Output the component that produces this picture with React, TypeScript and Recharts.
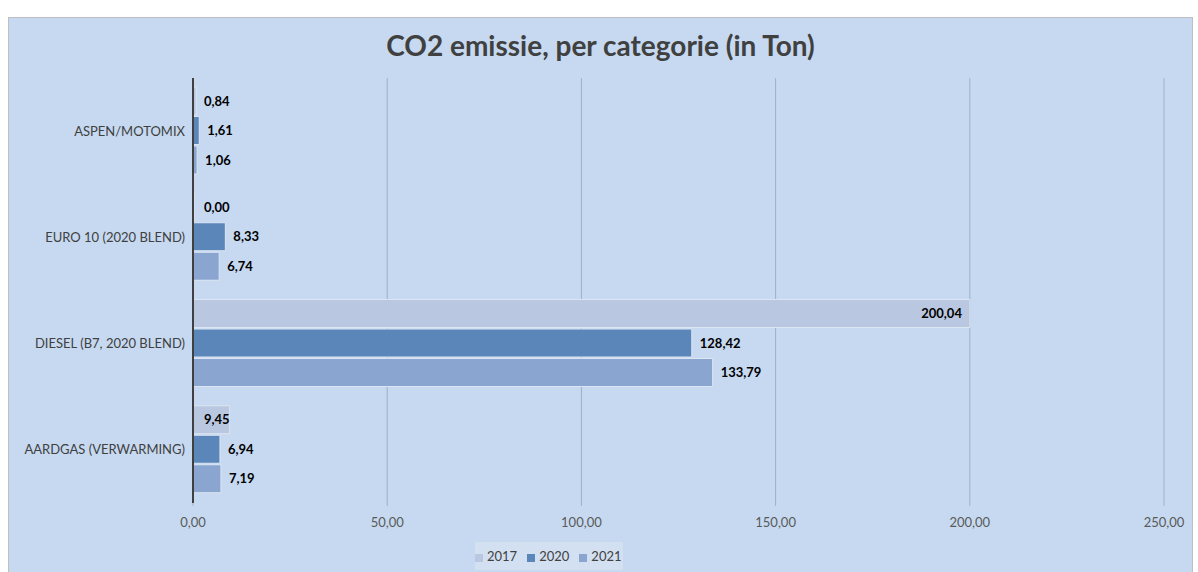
import { BarChart, Bar, XAxis, YAxis, CartesianGrid, Legend, LabelList } from "recharts";

const categories = ["ASPEN/MOTOMIX", "EURO 10 (2020 BLEND)", "DIESEL (B7, 2020 BLEND)", "AARDGAS (VERWARMING)"];
const values2017 = [0.84, 0.0, 200.04, 9.45];
const values2020 = [1.61, 8.33, 128.42, 6.94];
const values2021 = [1.06, 6.74, 133.79, 7.19];
const xTicks = [0, 50, 100, 150, 200, 250];

const series = [
  { key: "y2017", name: "2017", color: "#B9C8E0", labelAtBase: true },
  { key: "y2020", name: "2020", color: "#5A86BA", labelAtBase: false },
  { key: "y2021", name: "2021", color: "#8AA6D0", labelAtBase: false },
];

const chartData = categories.map((name, i) => ({
  name,
  y2017: values2017[i],
  y2020: values2020[i],
  y2021: values2021[i],
}));

const fmt = (v: number) => v.toFixed(2).replace(".", ",");
const FONT = "Lato, 'Open Sans', sans-serif";

// 2017 labels sit near the base (or inside the end of a long bar), the others just past the bar end
const makeLabel = (atBase: boolean) => (props: any) => {
  const { x, y, width, height, value } = props;
  const inside = width > 600;
  let tx = x + width + 8;
  if (atBase) tx = x + 11;
  if (inside) tx = x + width - 8;
  return (
    <text
      x={tx}
      y={y + height / 2}
      dy={4.5}
      textAnchor={inside ? "end" : "start"}
      fontFamily={FONT}
      fontSize={13}
      fontWeight={700}
      fill="#000"
    >
      {fmt(Number(value))}
    </text>
  );
};

const CategoryTick = (props: any) => {
  const { x, y, payload } = props;
  return (
    <text x={x} y={y} dy={4.5} textAnchor="end" fill="#404040" fontSize={13} fontFamily={FONT}>
      {payload.value}
    </text>
  );
};

export default function App() {
  return (
    <div style={{ position: "absolute", left: 0, top: 0, width: 1198, height: 572, background: "#fff", overflow: "hidden" }}>
      <div
        style={{
          position: "absolute",
          left: 8,
          top: 17,
          width: 1183,
          height: 560,
          background: "#C6D9F0",
          borderLeft: "1px solid #BFBFBF",
          borderTop: "1px solid #BFBFBF",
          borderRight: "1px solid #BFBFBF",
        }}
      >
        <div
          style={{
            position: "absolute",
            left: 0,
            top: 10,
            width: 1183,
            textAlign: "center",
            fontFamily: FONT,
            fontWeight: 700,
            fontSize: 28,
            color: "#404040",
          }}
        >
          CO2 emissie, per categorie (in Ton)
        </div>
        <BarChart
          width={1183}
          height={560}
          data={chartData}
          layout="vertical"
          margin={{ top: 60, right: 28, bottom: 17, left: 0 }}
          barCategoryGap={9}
          barGap={1.5}
        >
          <CartesianGrid horizontal={false} stroke="#A0AFC6" />
          <XAxis
            type="number"
            domain={[0, 250]}
            ticks={xTicks}
            tickFormatter={fmt}
            axisLine={false}
            tickLine={{ stroke: "#A0AFC6" }}
            tickSize={3}
            tickMargin={12}
            tick={{ fill: "#595959", fontSize: 13, fontFamily: FONT }}
          />
          <YAxis
            type="category"
            dataKey="name"
            width={184}
            axisLine={{ stroke: "#404040", strokeWidth: 2 }}
            tickLine={false}
            tick={<CategoryTick />}
          />
          <Legend
            verticalAlign="bottom"
            iconType="square"
            iconSize={8}
            wrapperStyle={{
              left: 466,
              width: 148,
              bottom: 8,
              height: 28,
              background: "#D3E0F2",
              fontFamily: FONT,
              fontSize: 13,
              lineHeight: "28px",
              whiteSpace: "nowrap",
            }}
            formatter={(value: string) => <span style={{ color: "#404040" }}>{value}</span>}
          />
          {series.map((s) => (
            <Bar
              key={s.key}
              dataKey={s.key}
              name={s.name}
              fill={s.color}
              stroke="#DCE6F2"
              strokeWidth={1}
              minPointSize={1}
              isAnimationActive={false}
            >
              <LabelList dataKey={s.key} content={makeLabel(s.labelAtBase)} />
            </Bar>
          ))}
        </BarChart>
      </div>
    </div>
  );
}
